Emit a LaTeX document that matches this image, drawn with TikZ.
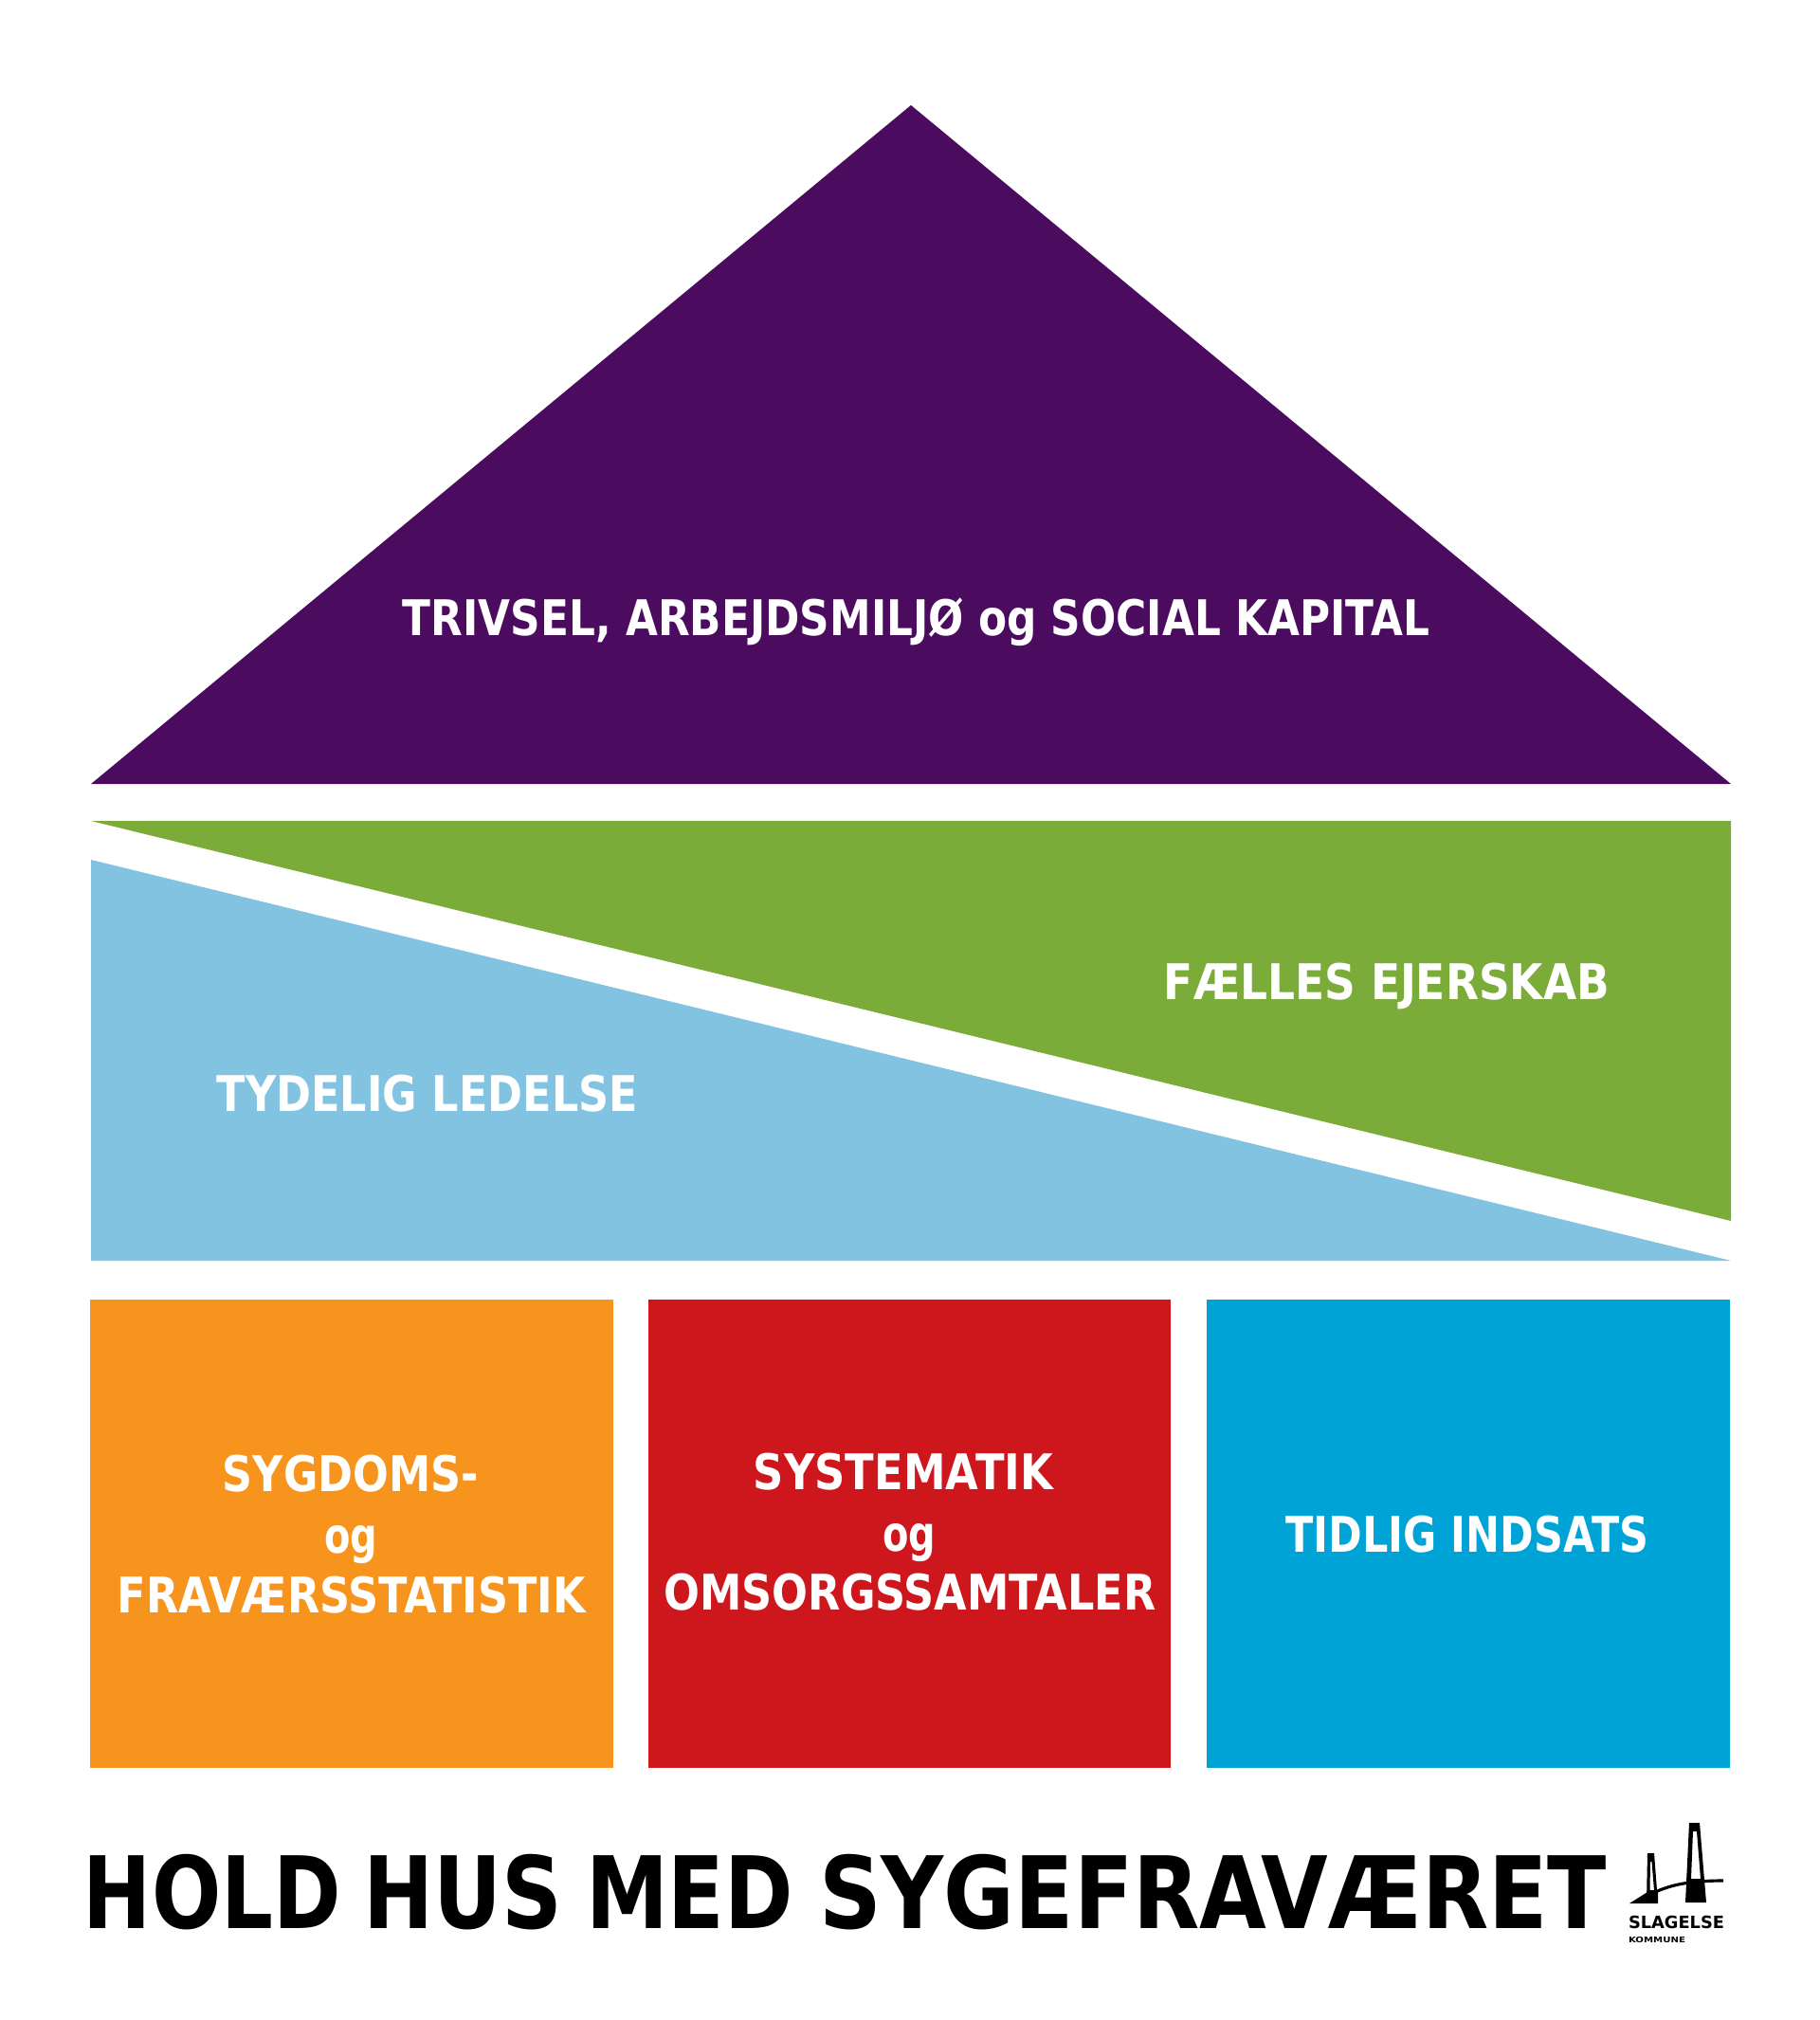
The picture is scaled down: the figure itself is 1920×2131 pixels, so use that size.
\documentclass[tikz,border=0pt]{standalone}
\usepackage{fontspec}
\usepackage{graphicx}
\setmainfont{DejaVu Sans}[BoldFont={DejaVu Sans Bold}]
\definecolor{cpurple}{HTML}{4B0B5E}
\definecolor{cgreen}{HTML}{7BAC39}
\definecolor{clight}{HTML}{83C3E2}
\definecolor{corange}{HTML}{F7941E}
\definecolor{cred}{HTML}{CD171D}
\definecolor{cblue}{HTML}{00A3D6}
\newcommand{\fitw}[2]{\resizebox{\dimexpr 0.02cm*#1\relax}{\height}{#2}}
\newcommand{\gapw}[1]{\hspace{\dimexpr 0.02cm*#1\relax}}
\tikzset{
  x=0.02cm,y=-0.02cm,
  lbl/.style={inner sep=0pt,outer sep=0pt,anchor=base,text=white,font=\fontsize{29.5pt}{30pt}\selectfont\bfseries},
  ttl/.style={inner sep=0pt,outer sep=0pt,anchor=base west,text=black,font=\fontsize{60pt}{62pt}\selectfont\bfseries},
  logo/.style={inner sep=0pt,outer sep=0pt,anchor=base west,text=black,font=\bfseries},
}
\begin{document}
\begin{tikzpicture}
\useasboundingbox (0,0) rectangle (1920,2131);
\fill[white] (0,0) rectangle (1920,2131);
% roof and beams
\fill[cpurple] (961,111) -- (1826,827) -- (96,827) -- cycle;
\fill[cgreen] (96,866) -- (1826,866) -- (1826,1288) -- cycle;
\fill[clight] (96,907) -- (1826,1330) -- (96,1330) -- cycle;
% pillars
\fill[corange] (95,1371) rectangle (647,1865);
\fill[cred] (684,1371) rectangle (1235,1865);
\fill[cblue] (1273,1371) rectangle (1825,1865);
% labels
\node[lbl] (roof) at (966.5,670) {\fitw{1083}{TRIVSEL, ARBEJDSMILJØ og SOCIAL KAPITAL}};
\node[lbl] (own) at (1463,1054) {\fitw{470}{FÆLLES EJERSKAB}};
\node[lbl] (lead) at (451,1172) {\fitw{444}{TYDELIG LEDELSE}};
\node[lbl] (a1) at (370,1573) {\fitw{270}{SYGDOMS-}};
\node[lbl] (a2) at (370,1638) {\fitw{56}{og}};
\node[lbl] (a3) at (371,1701) {\fitw{494}{FRAVÆRSSTATISTIK}};
\node[lbl] (b1) at (953,1571) {\fitw{316}{SYSTEMATIK}};
\node[lbl] (b2) at (959,1636) {\fitw{56}{og}};
\node[lbl] (b3) at (960,1698) {\fitw{519}{OMSORGSSAMTALER}};
\node[lbl] (c1) at (1548,1637) {\fitw{383}{TIDLIG INDSATS}};
% title
\node[ttl] (title) at (88,2034) {\fitw{272}{HOLD}\gapw{23}\fitw{210}{HUS}\gapw{25}\fitw{219}{MED}\gapw{27}\fitw{831}{SYGEFRAVÆRET}};
% logo
\fill[black,even odd rule] (1782,1923) -- (1793,1923) -- (1800,2007) -- (1778,2007) -- cycle
  (1786,1932) -- (1790,1932) -- (1794,1982) -- (1784,1982) -- cycle;
\fill[black,even odd rule] (1738,1955) -- (1745,1955) -- (1749,2007) -- (1737,2007) -- cycle
  (1741,1964) -- (1742.5,1964) -- (1745,1994) -- (1740.5,1994) -- cycle;
\fill[black] (1719,2008) -- (1738,1996) -- (1749,1996) -- (1749,2008) -- cycle;
\draw[black,line width=1.8pt] (1742,1998) .. controls (1760,1989) and (1780,1984) .. (1818,1984);
\node[logo,font=\fontsize{10.2pt}{11pt}\selectfont\bfseries] (slag) at (1718,2034) {\fitw{101}{SLAGELSE}};
\node[logo,font=\fontsize{4.7pt}{5pt}\selectfont\bfseries] (komm) at (1718,2049) {\fitw{60}{KOMMUNE}};
\end{tikzpicture}
\end{document}
